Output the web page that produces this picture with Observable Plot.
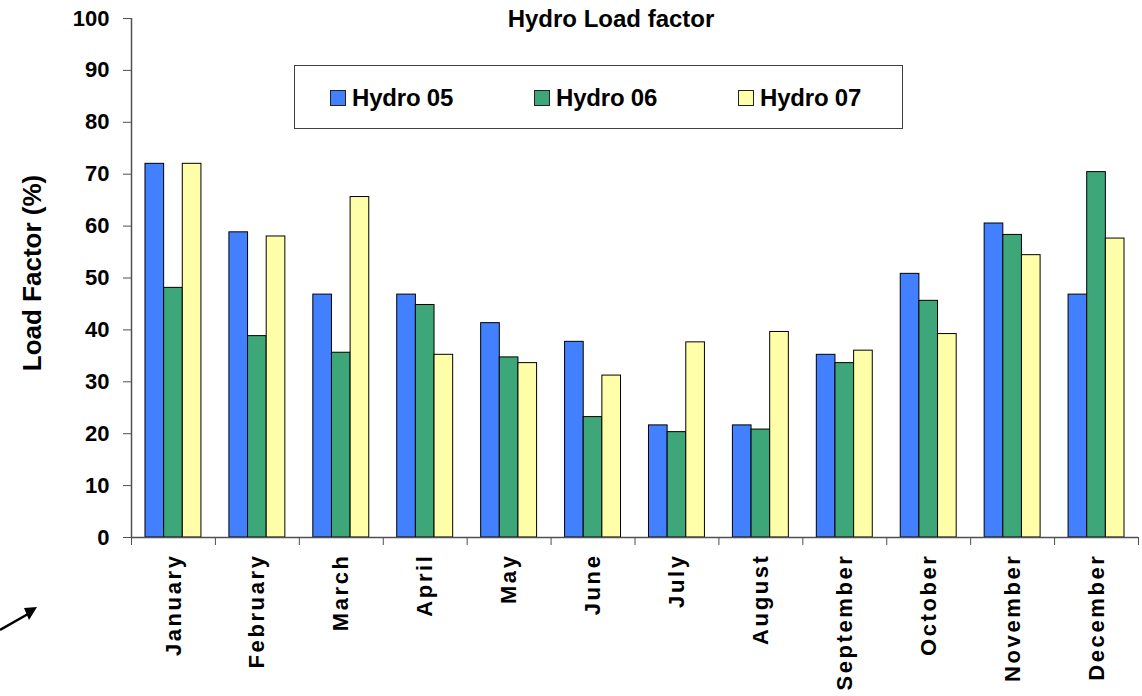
<!DOCTYPE html>
<html>
<head>
<meta charset="utf-8">
<script src="https://cdn.jsdelivr.net/npm/d3@7"></script>
<script src="https://cdn.jsdelivr.net/npm/@observablehq/plot@0.6"></script>
<style>
  html, body { margin: 0; padding: 0; background: #fff; }
  #wrap { position: relative; width: 1142px; height: 696px; font-family: "Liberation Sans", Arial, sans-serif; }
  #legend { position: absolute; left: 294px; top: 65px; width: 607px; height: 62px; border: 1px solid #404040; background: #fff; }
  .item { position: absolute; top: 18px; display: flex; align-items: center; font-weight: bold; font-size: 24px; color: #000; letter-spacing: -0.2px; }
  .sw { width: 14px; height: 14px; border: 1px solid #222; margin-right: 6px; }
  #arrow { position: absolute; left: 0; top: 600px; }
</style>
</head>
<body>
<div id="wrap"></div>
<script>
const months = ["January","February","March","April","May","June","July","August","September","October","November","December"];
const series = ["Hydro 05","Hydro 06","Hydro 07"];
const hydro05 = [72.0, 58.8, 46.8, 46.8, 41.3, 37.7, 21.6, 21.6, 35.2, 50.8, 60.5, 46.8];
const hydro06 = [48.1, 38.8, 35.6, 44.8, 34.7, 23.2, 20.3, 20.8, 33.6, 45.6, 58.3, 70.4];
const hydro07 = [72.0, 58.0, 65.6, 35.2, 33.6, 31.2, 37.6, 39.6, 36.0, 39.2, 54.4, 57.6];
const yTicks = [0,10,20,30,40,50,60,70,80,90,100];
const colors = ["#4280FF", "#3DA77A", "#FFFFAA"];
const title = "Hydro Load factor";
const yLabel = "Load Factor (%)";

const values = [hydro05, hydro06, hydro07];
const rows = months.flatMap((m, i) => series.map((s, k) => ({month: m, series: s, value: values[k][i]})));

const W = 1142, H = 696, mL = 131, mR = 4, mT = 18, mB = 159;
const bw = (W - mL - mR) / months.length;
const font = '"Liberation Sans", Arial, sans-serif';
const axisColor = "#505050";

const barMarks = series.map((s, k) => Plot.barY(rows.filter(d => d.series === s), {
  x: "month", y: "value", fill: colors[k], stroke: "#000", strokeWidth: 1,
  insetLeft: bw * (1/6 + k * 2/9),
  insetRight: bw * (1 - (1/6 + (k + 1) * 2/9))
}));

const chart = Plot.plot({
  width: W, height: H,
  marginLeft: mL, marginRight: mR, marginTop: mT, marginBottom: mB,
  style: {fontFamily: font, fontWeight: "bold", color: "#000", background: "#fff"},
  x: {domain: months, padding: 0, round: false},
  y: {domain: [0, 100]},
  marks: [
    ...barMarks,
    Plot.ruleY([0], {stroke: axisColor, strokeWidth: 1.5}),
    Plot.ruleX([months[0]], {x: d => d, dx: -bw/2, y1: 0, y2: 100, stroke: axisColor, strokeWidth: 1.5}),
    Plot.ruleX(months, {x: d => d, dx: -bw/2, y1: 0, y2: 0, insetBottom: -8, stroke: axisColor}),
    Plot.ruleX([months[months.length - 1]], {x: d => d, dx: bw/2, y1: 0, y2: 0, insetBottom: -8, stroke: axisColor}),
    Plot.axisY({ticks: yTicks, tickSize: 8, tickPadding: 14, fontSize: 22, label: null, stroke: axisColor}),
    Plot.axisX({tickSize: 0, tickPadding: 16, tickRotate: -90, fontSize: 22, label: null}),
    Plot.text([yLabel], {frameAnchor: "left", textAnchor: "middle", rotate: -90, dx: -99, dy: -5, fontSize: 26, fontWeight: "bold"}),
    Plot.text([title], {frameAnchor: "top", lineAnchor: "middle", dx: -24, dy: 1, fontSize: 24, fontWeight: "bold"})
  ]
});

d3.select(chart).selectAll('[aria-label="x-axis tick label"] text').attr("letter-spacing", "2.6px");

const wrap = document.getElementById("wrap");
wrap.appendChild(chart);

const legend = document.createElement("div");
legend.id = "legend";
const lx = [35, 239, 443];
series.forEach((s, k) => {
  const it = document.createElement("div");
  it.className = "item";
  it.style.left = lx[k] + "px";
  const sw = document.createElement("div");
  sw.className = "sw";
  sw.style.background = colors[k];
  it.appendChild(sw);
  it.appendChild(document.createTextNode(s));
  legend.appendChild(it);
});
wrap.appendChild(legend);

const arrow = document.createElementNS("http://www.w3.org/2000/svg", "svg");
arrow.setAttribute("id", "arrow");
arrow.setAttribute("width", "50");
arrow.setAttribute("height", "50");
arrow.innerHTML = '<line x1="0" y1="30" x2="28" y2="14" stroke="#000" stroke-width="2.5"/><polygon points="37,7 24,8 29,20" fill="#000"/>';
wrap.appendChild(arrow);
</script>
</body>
</html>
